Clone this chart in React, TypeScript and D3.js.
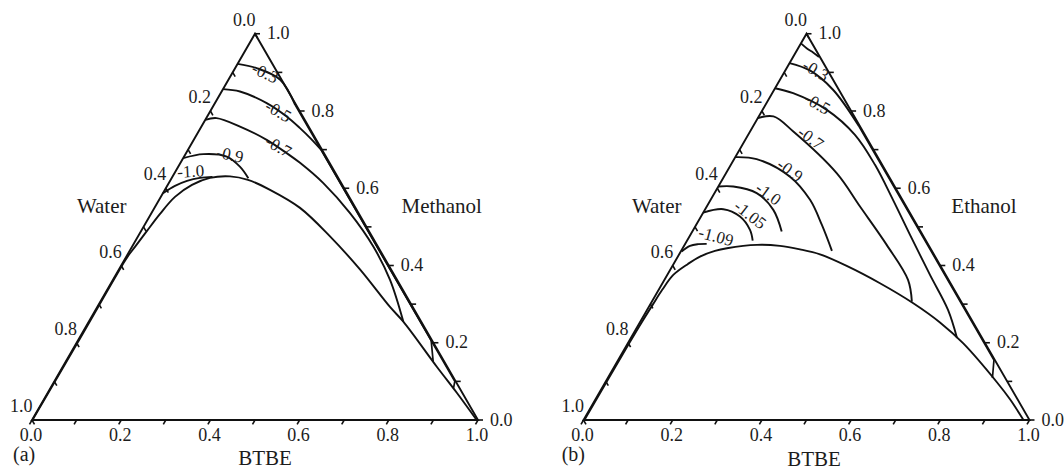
import React from "react";
import * as d3 from "d3";

type Pt = [number, number]; // [x(BTBE), x(alcohol)] mole fractions; water = 1 - sum

// ---------- axis ticks ----------
const minorTicks = [0, 0.1, 0.2, 0.3, 0.4, 0.5, 0.6, 0.7, 0.8, 0.9, 1.0];
const majorTicks = [0, 0.2, 0.4, 0.6, 0.8, 1.0];
const majorTickText = ["0.0", "0.2", "0.4", "0.6", "0.8", "1.0"];

// ---------- panel (a): water + methanol + BTBE ----------
const binodalA: Pt[] = [
  [0.001, 0.0], [0.002, 0.2], [0.002, 0.4], [0.003, 0.425], [0.0068, 0.4482],
  [0.013, 0.4896], [0.0202, 0.5337], [0.0317, 0.5777], [0.0543, 0.6088],
  [0.0856, 0.6269], [0.1286, 0.6308], [0.1734, 0.6218], [0.2357, 0.5959],
  [0.3263, 0.5492], [0.4305, 0.4754], [0.5404, 0.3899], [0.6563, 0.2927],
  [0.7052, 0.2547], [0.8394, 0.1373], [0.9179, 0.07], [0.997, 0.0],
];
const contA03: Pt[] = [[0, 0.922], [0.048, 0.911], [0.116, 0.881], [0.182, 0.816]];
const tailA03: Pt[] = [[0.182, 0.816], [0.4, 0.598], [0.6, 0.398], [0.8, 0.198], [0.898, 0.1], [0.904, 0.082]];
const contA05: Pt[] = [[0, 0.8567], [0.041, 0.8505], [0.116, 0.8205], [0.178, 0.7858], [0.223, 0.7557], [0.2616, 0.728], [0.298, 0.7]];
const tailA05: Pt[] = [[0.298, 0.7], [0.5, 0.498], [0.65, 0.348], [0.792, 0.206], [0.824, 0.151]];
const contA07: Pt[] = [
  [0, 0.7772], [0.023, 0.7816], [0.0865, 0.7598], [0.1635, 0.7254], [0.2256, 0.6909],
  [0.268, 0.6658], [0.3466, 0.6132], [0.4453, 0.5355], [0.5408, 0.449], [0.6214, 0.3627], [0.7052, 0.2547],
];
const contA09: Pt[] = [[0, 0.678], [0.04, 0.6883], [0.0955, 0.6821], [0.138, 0.6562], [0.172, 0.6262]];
const contA10: Pt[] = [[0, 0.5873], [0.0175, 0.6062], [0.038, 0.6192], [0.0632, 0.6269], [0.09, 0.6295]];

const contourLabelsA = ["-0.3", "-0.5", "-0.7", "-0.9", "-1.0"];
const labelPosA: Pt[] = [[0.0733, 0.8982], [0.1528, 0.7987], [0.1982, 0.708], [0.1007, 0.6865], [0.0342, 0.6433]];
const labelAngleA = [25, 30, 30, 12, -3];

// ---------- panel (b): water + ethanol + BTBE ----------
const binodalB: Pt[] = [
  [0.002, 0.0], [0.003, 0.2], [0.004, 0.252], [0.006, 0.3], [0.008, 0.337], [0.0135, 0.3756],
  [0.0322, 0.4041], [0.0497, 0.4231], [0.0759, 0.4378], [0.0993, 0.4448], [0.1623, 0.4534],
  [0.2152, 0.4508], [0.2645, 0.4417], [0.3159, 0.4288], [0.3906, 0.399], [0.4877, 0.3541],
  [0.5883, 0.3023], [0.673, 0.2526], [0.7525, 0.1982], [0.8773, 0.0984], [0.9295, 0.0536], [0.9865, 0.0],
];
const contB01: Pt[] = [[0, 0.975], [0.02, 0.962], [0.04, 0.951], [0.058, 0.94]];
const contB03: Pt[] = [[0, 0.924], [0.055, 0.905], [0.132, 0.855], [0.238, 0.76]];
const tailB03: Pt[] = [[0.238, 0.76], [0.4, 0.598], [0.6, 0.398], [0.8, 0.198], [0.8426, 0.1554], [0.8625, 0.1088]];
const contB05: Pt[] = [
  [0, 0.859], [0.047, 0.846], [0.144, 0.803], [0.2395, 0.7383], [0.3233, 0.6606],
  [0.409, 0.5699], [0.4925, 0.4793], [0.5891, 0.3756], [0.6748, 0.285], [0.7312, 0.2124],
];
const contB07: Pt[] = [
  [0, 0.7816], [0.033, 0.786], [0.097, 0.7469], [0.2481, 0.6391], [0.3437, 0.5526],
  [0.4531, 0.4534], [0.5463, 0.3627], [0.583, 0.3065],
];
const contB09: Pt[] = [[0, 0.6806], [0.0506, 0.6754], [0.148, 0.63], [0.223, 0.57], [0.282, 0.505], [0.338, 0.438]];
const contB10: Pt[] = [[0, 0.6044], [0.0337, 0.6044], [0.0947, 0.5873], [0.1536, 0.544], [0.2005, 0.4878]];
const contB105: Pt[] = [[0, 0.537], [0.0406, 0.5458], [0.0875, 0.5267], [0.1272, 0.4922], [0.1471, 0.4645]];
const contB109: Pt[] = [[0.002, 0.436], [0.0134, 0.4508], [0.0298, 0.4552], [0.0482, 0.456]];

const contourLabelsB = ["-0.3", "-0.5", "-0.7", "-0.9", "-1.0", "-1.05", "-1.09"];
const labelPosB: Pt[] = [
  [0.0681, 0.905], [0.1149, 0.8187], [0.1445, 0.7298], [0.14, 0.6459],
  [0.1216, 0.5855], [0.1078, 0.5311], [0.0597, 0.4749],
];
const labelAngleB = [30, 30, 36, 36, 36, 38, 15];

// ---------- drawing ----------
const FONT = "Liberation Serif, Times New Roman, serif";
const INK = "#111";
const TXT = "#1c1c1c";

interface PanelProps {
  x0: number;
  smooth: Pt[][];
  linear: Pt[][];
  labels: string[];
  labelPos: Pt[];
  labelAngle: number[];
  waterX: number;
  alcohol: string;
  alcoholX: number;
  btbeX: number;
  btbeY: number;
  tag: string;
  tagX: number;
  tagY: number;
}

const W = 446;
const BASE = 420;
const H = W * Math.sqrt(3) / 2;

function Panel(p: PanelProps) {
  const sx = d3.scaleLinear().domain([0, 1]).range([p.x0, p.x0 + W]);
  const sy = d3.scaleLinear().domain([0, 1]).range([BASE, BASE - H]);
  const proj = (q: Pt): [number, number] => [sx(q[0] + q[1] / 2), sy(q[1])];
  const smoothLine = d3.line<Pt>().x((q) => proj(q)[0]).y((q) => proj(q)[1]).curve(d3.curveCatmullRom.alpha(0.5));
  const linLine = d3.line<Pt>().x((q) => proj(q)[0]).y((q) => proj(q)[1]);

  const A = proj([0, 0]);
  const B = proj([1, 0]);
  const C = proj([0, 1]);
  const tl = 5;

  return (
    <g>
      <path d={`M${A[0]},${A[1]}L${B[0]},${B[1]}L${C[0]},${C[1]}Z`} fill="none" stroke={INK} strokeWidth={1.9} strokeLinejoin="miter" />
      {minorTicks.map((t, i) => {
        const pb = proj([t, 0]);
        const pr = proj([1 - t, t]);
        const pl = proj([0, 1 - t]);
        return (
          <g key={"t" + i} stroke={INK} strokeWidth={1.6}>
            <line x1={pb[0]} y1={pb[1]} x2={pb[0] - tl * 0.5} y2={pb[1] + tl * 0.866} />
            <line x1={pr[0]} y1={pr[1]} x2={pr[0] + tl} y2={pr[1]} />
            <line x1={pl[0]} y1={pl[1]} x2={pl[0] + tl * 0.5} y2={pl[1] + tl * 0.866} />
          </g>
        );
      })}
      {majorTicks.map((t, i) => {
        const pb = proj([t, 0]);
        const pr = proj([1 - t, t]);
        const pl = proj([0, 1 - t]);
        return (
          <g key={"l" + i} style={{ fontFamily: FONT }} fontSize={18} fill={TXT}>
            <text x={pb[0] - 1} y={440.5} textAnchor="middle">{majorTickText[i]}</text>
            <text x={pr[0] + 12} y={pr[1] + 5.5} textAnchor="start">{majorTickText[i]}</text>
            <text x={pl[0] + 0.5} y={pl[1] - 8} textAnchor="end">{majorTickText[i]}</text>
          </g>
        );
      })}
      {p.smooth.map((c, i) => (
        <path key={"s" + i} d={smoothLine(c) || ""} fill="none" stroke={INK} strokeWidth={1.9} />
      ))}
      {p.linear.map((c, i) => (
        <path key={"n" + i} d={linLine(c) || ""} fill="none" stroke={INK} strokeWidth={1.7} strokeLinejoin="round" />
      ))}
      {p.labels.map((s, i) => {
        const q = proj(p.labelPos[i]);
        return (
          <text key={"c" + i} x={0} y={0} transform={`translate(${q[0]},${q[1]}) rotate(${p.labelAngle[i]})`}
            textAnchor="middle" dominantBaseline="central" style={{ fontFamily: FONT }} fontSize={17} fill={TXT}>{s}</text>
        );
      })}
      <g style={{ fontFamily: FONT }} fontSize={21} fill={TXT}>
        <text x={p.waterX} y={213} textAnchor="middle">Water</text>
        <text x={p.alcoholX} y={213} textAnchor="middle">{p.alcohol}</text>
        <text x={p.btbeX} y={p.btbeY} textAnchor="middle">BTBE</text>
        <text x={p.tagX} y={p.tagY} textAnchor="start" fontSize={20}>{p.tag}</text>
      </g>
    </g>
  );
}

export default function App() {
  return (
    <svg width={1064} height={470} viewBox="0 0 1064 470"
      style={{ position: "absolute", left: 0, top: 0, background: "#fff" }}>
      <rect x={0} y={0} width={1064} height={470} fill="#fff" />
      <Panel
        x0={32}
        smooth={[binodalA, contA03, contA05, contA07, contA09, contA10]}
        linear={[tailA03, tailA05]}
        labels={contourLabelsA}
        labelPos={labelPosA}
        labelAngle={labelAngleA}
        waterX={101.7}
        alcohol="Methanol"
        alcoholX={441.7}
        btbeX={265}
        btbeY={465}
        tag="(a)"
        tagX={13}
        tagY={461}
      />
      <Panel
        x0={583.5}
        smooth={[binodalB, contB01, contB03, contB05, contB07, contB09, contB10, contB105, contB109]}
        linear={[tailB03]}
        labels={contourLabelsB}
        labelPos={labelPosB}
        labelAngle={labelAngleB}
        waterX={656.7}
        alcohol="Ethanol"
        alcoholX={984}
        btbeX={814}
        btbeY={466}
        tag="(b)"
        tagX={561.7}
        tagY={461}
      />
    </svg>
  );
}
